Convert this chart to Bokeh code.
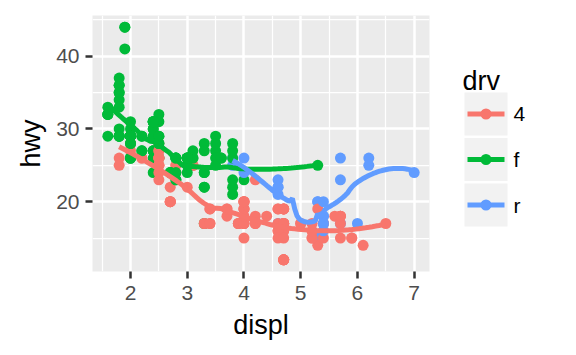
import numpy as np
from bokeh.plotting import figure
from bokeh.models import FixedTicker, ColumnDataSource, Range1d
from bokeh.layouts import row
from bokeh.embed import file_html
from bokeh.resources import INLINE
from bokeh.core.properties import value

# mpg data (displ, hwy, drv) in row order
displ = [1.8,1.8,2.0,2.0,2.8,2.8,3.1,
         1.8,1.8,2.0,2.0,2.8,2.8,3.1,3.1,2.8,3.1,4.2,
         5.3,5.3,5.3,5.7,6.0,5.7,5.7,6.2,6.2,7.0,
         5.3,5.3,5.7,6.5,
         2.4,2.4,3.1,3.5,3.6,
         2.4,3.0,3.3,3.3,3.3,3.3,3.3,3.8,3.8,3.8,4.0,
         3.7,3.7,3.9,3.9,4.7,4.7,4.7,5.2,5.2,
         3.9,4.7,4.7,4.7,5.2,5.7,5.9,
         4.7,4.7,4.7,4.7,4.7,4.7,5.2,5.2,5.7,5.9,
         4.6,5.4,5.4,
         4.0,4.0,4.0,4.0,4.6,5.0,
         4.2,4.2,4.6,4.6,4.6,5.4,5.4,
         3.8,3.8,4.0,4.0,4.6,4.6,4.6,4.6,5.4,
         1.6,1.6,1.6,1.6,1.6,1.8,1.8,1.8,2.0,
         2.4,2.4,2.4,2.4,2.5,2.5,3.3,
         2.0,2.0,2.0,2.0,2.7,2.7,2.7,
         3.0,3.7,4.0,4.7,4.7,4.7,5.7,6.1,
         4.0,4.2,4.4,4.6,
         5.4,5.4,5.4,
         4.0,4.0,4.6,5.0,
         2.4,2.4,2.5,2.5,3.5,3.5,
         3.0,3.0,3.5,
         3.3,3.3,4.0,5.6,
         3.1,3.8,3.8,3.8,5.3,
         2.5,2.5,2.5,2.5,2.5,2.5,
         2.2,2.2,2.5,2.5,2.5,2.5,2.5,2.5,
         2.7,2.7,3.4,3.4,4.0,4.7,
         2.2,2.2,2.4,2.4,3.0,3.0,3.5,
         2.2,2.2,2.4,2.4,3.0,3.0,3.3,
         1.8,1.8,1.8,1.8,1.8,
         4.7,5.7,
         2.7,2.7,2.7,3.4,3.4,4.0,4.0,
         2.0,2.0,2.0,2.0,2.8,
         1.9,2.0,2.0,2.0,2.0,2.5,2.5,2.8,2.8,
         1.9,1.9,2.0,2.0,2.5,2.5,
         1.8,1.8,2.0,2.0,2.8,2.8,3.6]

hwy = [29,29,31,30,26,26,27,
       26,25,28,27,25,25,25,25,24,25,23,
       20,15,20,17,17,26,23,26,25,24,
       19,14,15,17,
       27,30,26,29,26,
       24,24,22,22,24,24,17,22,21,23,23,
       19,18,17,17,19,19,12,17,15,
       17,17,12,17,16,18,15,
       16,12,17,17,16,12,15,16,17,15,
       17,17,18,
       17,19,17,19,19,17,
       17,17,16,16,17,15,17,
       26,25,26,24,21,22,23,22,20,
       33,32,32,29,32,34,36,36,29,
       26,27,30,31,26,26,28,
       26,29,28,29,24,24,24,
       22,19,20,17,12,19,18,14,
       15,18,18,15,
       17,16,18,
       17,19,19,17,
       29,27,31,32,27,26,
       26,25,25,
       17,17,20,18,
       26,26,27,28,25,
       25,24,27,25,26,23,
       26,26,26,26,28,26,27,25,
       20,20,19,17,20,19,
       29,27,31,31,26,26,28,
       27,29,31,31,26,26,27,
       30,33,35,37,35,
       15,18,
       20,20,22,17,19,18,20,
       29,26,29,29,23,
       44,29,26,29,29,29,28,23,24,
       44,41,29,26,28,29,
       29,29,28,29,26,26,26]

drv = list("fffffff" + "44444444444" + "rrrrrrrrrr" + "4444" + "fffff" +
           "fffffffffff" + "444444444" + "4444444" + "4444444444" + "rrr" +
           "444444" + "4444444" + "rrrrrrrrr" + "fffffffff" + "fffffff" +
           "fffffff" + "44444444" + "4444" + "rrr" + "4444" + "ffffff" +
           "fff" + "4444" + "fffff" + "444444" + "44444444" + "444444" +
           "fffffff" + "fffffff" + "fffff" + "44" + "4444444" + "fffff" +
           "fffffffff" + "ffffff" + "fffffff")

levels = ["4", "f", "r"]
palette = ["#F8766D", "#00BA38", "#619CFF"]
x_ticks = [2, 3, 4, 5, 6, 7]
x_minor = [1.5, 2.5, 3.5, 4.5, 5.5, 6.5]
y_ticks = [20, 30, 40]
y_minor = [15, 25, 35, 45]

FONT = "Liberation Sans"
TICK_FS = "21px"
TITLE_FS = "27px"

x = np.array(displ, dtype=float)
y = np.array(hwy, dtype=float)
g = np.array(drv)


def loess(xv, yv, xs, span=0.75):
    n = len(xv)
    q = int(np.floor(n * span))
    out = []
    for x0 in xs:
        d = np.abs(xv - x0)
        h = np.sort(d)[q - 1]
        u = d / h
        w = np.where(u < 1, (1 - u ** 3) ** 3, 0.0)
        X = np.column_stack([np.ones(n), xv - x0, (xv - x0) ** 2])
        A = X.T @ (X * w[:, None])
        b = X.T @ (w * yv)
        beta = np.linalg.lstsq(A, b, rcond=None)[0]
        out.append(beta[0])
    return np.array(out)


xmin, xmax = x.min(), x.max()
ymin, ymax = y.min(), y.max()
xpad = (xmax - xmin) * 0.05
ypad = (ymax - ymin) * 0.05

BT, BB = 15, 84  # top / bottom borders shared by both panels

p = figure(width=440, height=355, output_backend="svg", toolbar_location=None,
           x_range=Range1d(xmin - xpad, xmax + xpad),
           y_range=Range1d(ymin - ypad, ymax + ypad),
           min_border_left=92, min_border_right=11, min_border_top=BT,
           min_border_bottom=BB)
p.background_fill_color = "#EBEBEB"
p.border_fill_color = "white"
p.outline_line_color = None

p.xaxis.ticker = FixedTicker(ticks=x_ticks, minor_ticks=x_minor)
p.yaxis.ticker = FixedTicker(ticks=y_ticks, minor_ticks=y_minor)
for ax in (p.xaxis[0], p.yaxis[0]):
    ax.axis_line_color = None
    ax.major_tick_line_color = "#333333"
    ax.major_tick_line_width = 2.5
    ax.major_tick_out = 7
    ax.major_tick_in = 0
    ax.minor_tick_line_color = None
    ax.major_label_text_font = FONT
    ax.major_label_text_font_size = TICK_FS
    ax.major_label_text_color = "#4D4D4D"
    ax.axis_label_text_font = FONT
    ax.axis_label_text_font_size = TITLE_FS
    ax.axis_label_text_font_style = "normal"
    ax.axis_label_text_color = "black"
p.xaxis.axis_label = "displ"
p.yaxis.axis_label = "hwy"
p.xaxis.major_label_standoff = 7
p.yaxis.major_label_standoff = 6
p.xaxis.axis_label_standoff = 7
p.yaxis.axis_label_standoff = 7

for grid in (p.xgrid[0], p.ygrid[0]):
    grid.grid_line_color = "white"
    grid.grid_line_width = 2.5
    grid.minor_grid_line_color = "white"
    grid.minor_grid_line_width = 1.25

cmap = dict(zip(levels, palette))
src = ColumnDataSource(dict(x=x, y=y, c=[cmap[v] for v in drv]))
p.scatter("x", "y", source=src, size=11, fill_color="c", line_color=None)

for lev, col in zip(levels, palette):
    m = g == lev
    xs = np.linspace(x[m].min(), x[m].max(), 80)
    ys = loess(x[m], y[m], xs)
    p.line(xs, ys, line_color=col, line_width=5)

# legend panel: frame aligned with main frame; y in page pixels
leg = figure(width=136, height=355, output_backend="svg", toolbar_location=None,
             x_range=Range1d(0, 136), y_range=Range1d(355 - BB, BT),
             x_axis_type=None, y_axis_type=None, min_border_left=0,
             min_border_right=0, min_border_top=BT, min_border_bottom=BB)
leg.grid.visible = False
leg.outline_line_color = None
leg.background_fill_color = "white"
leg.border_fill_color = "white"

key = 43
gap = 2.5
top0 = 92
kx0 = 24
kcy = [top0 + key / 2 + i * (key + gap) for i in range(len(levels))]
leg.rect(x=[kx0 + key / 2] * len(levels), y=kcy, width=key, height=key,
         fill_color="#F2F2F2", line_color=None)
for cy, col in zip(kcy, palette):
    leg.line([kx0 + 3, kx0 + key - 3], [cy, cy], line_color=col, line_width=5)
leg.scatter([kx0 + key / 2] * len(levels), kcy, size=11, fill_color=palette,
            line_color=None)
leg.text(x=[kx0 + key + 6] * len(levels), y=kcy, text=levels,
         text_font=value(FONT), text_font_size=TICK_FS, text_baseline="middle",
         text_color="black")
leg.text(x=[kx0 - 2], y=[80], text=["drv"], text_font=value(FONT),
         text_font_size=TITLE_FS, text_baseline="alphabetic", text_color="black")

layout = row(p, leg)
open("out.html", "w").write(file_html(layout, INLINE))
